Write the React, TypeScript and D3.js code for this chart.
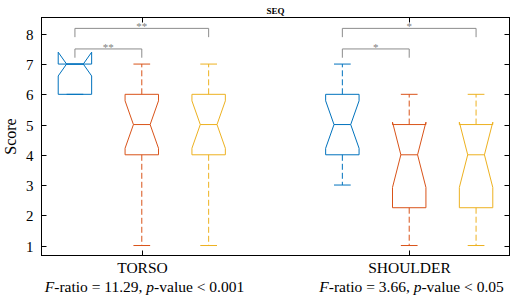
import { useEffect, useRef } from "react";
import * as d3 from "d3";

// box statistics, three conditions per body region
const regions = ["TORSO", "SHOULDER"];
const boxPositions = [[1, 2, 3], [5, 6, 7]];
const q1Values = [[6, 4, 4], [4, 2.25, 2.25]];
const medianValues = [[7, 5, 5], [5, 4, 4]];
const q3Values = [[7, 6, 6], [6, 5, 5]];
const whiskerLow = [[6, 1, 1], [3, 1, 1]];
const whiskerHigh = [[7, 7, 7], [7, 6, 6]];
const sampleSize = 16;

const fRatios = ["11.29", "3.66"];
const pValues = ["0.001", "0.05"];

// significance brackets: [region, from box, to box, level, stars]
const brackets: [number, number, number, number, string][] = [
  [0, 0, 2, 8.18, "**"],
  [0, 0, 1, 7.5, "**"],
  [1, 0, 2, 8.18, "*"],
  [1, 0, 1, 7.5, "*"],
];

const yTicks = [1, 2, 3, 4, 5, 6, 7, 8];
const colors = ["#0072BD", "#D95319", "#EDB120"];

const App = () => {
  const ref = useRef<SVGSVGElement>(null);

  useEffect(() => {
    if (!ref.current) return;
    const svg = d3.select(ref.current);
    svg.selectAll("*").remove();

    const left = 41.5, right = 509.5, top = 17.5, bottom = 255.5;
    const font = "'Liberation Serif', 'Times New Roman', serif";

    const x = d3.scaleLinear().domain([0.5, 7.5]).range([left, right]);
    const y = d3.scaleLinear().domain([0.67, 8.54]).range([bottom, top]);
    const half = x(0.25) - x(0);

    // title
    svg.append("text")
      .attr("x", (left + right) / 2)
      .attr("y", 13.5)
      .attr("text-anchor", "middle")
      .attr("font-family", font)
      .attr("font-weight", "bold")
      .attr("font-size", 9)
      .text("SEQ");

    // brackets
    const drop = 0.29;
    brackets.forEach(([r, a, b, lvl, stars]) => {
      const x1 = x(boxPositions[r][a]);
      const x2 = x(boxPositions[r][b]);
      const path = d3.path();
      path.moveTo(x1, y(lvl - drop));
      path.lineTo(x1, y(lvl));
      path.lineTo(x2, y(lvl));
      path.lineTo(x2, y(lvl - drop));
      svg.append("path")
        .attr("d", path.toString())
        .attr("fill", "none")
        .attr("stroke", "#8c8c8c")
        .attr("stroke-width", 1);
      svg.append("text")
        .attr("x", (x1 + x2) / 2)
        .attr("y", y(lvl) + 2)
        .attr("text-anchor", "middle")
        .attr("font-family", font)
        .attr("font-size", 11)
        .attr("fill", "#808080")
        .text(stars);
    });

    // boxes
    regions.forEach((_, r) => {
      boxPositions[r].forEach((pos, i) => {
        const c = x(pos);
        const q1 = q1Values[r][i], med = medianValues[r][i], q3 = q3Values[r][i];
        const notch = (1.57 * (q3 - q1)) / Math.sqrt(sampleSize);
        const nl = med - notch, nh = med + notch;
        const col = colors[i];
        const g = svg.append("g").attr("stroke", col).attr("fill", "none").attr("stroke-width", 1);

        // whiskers
        [[q3, whiskerHigh[r][i]], [q1, whiskerLow[r][i]]].forEach(([from, to]) => {
          g.append("line")
            .attr("x1", c).attr("x2", c)
            .attr("y1", y(from)).attr("y2", y(to))
            .attr("stroke-dasharray", "6,3");
          g.append("line")
            .attr("x1", c - half / 2).attr("x2", c + half / 2)
            .attr("y1", y(to)).attr("y2", y(to));
        });

        const pts: [number, number][] = [
          [c - half, y(q1)], [c - half, y(nl)], [c - half / 2, y(med)], [c - half, y(nh)],
          [c - half, y(q3)], [c + half, y(q3)], [c + half, y(nh)], [c + half / 2, y(med)],
          [c + half, y(nl)], [c + half, y(q1)],
        ];
        g.append("path").attr("d", d3.line()(pts) + "Z");
        g.append("line")
          .attr("x1", c - half / 2).attr("x2", c + half / 2)
          .attr("y1", y(med)).attr("y2", y(med));
      });
    });

    // axes frame and ticks
    svg.append("rect")
      .attr("x", left).attr("y", top)
      .attr("width", right - left).attr("height", bottom - top)
      .attr("fill", "none").attr("stroke", "#000").attr("stroke-width", 1);

    const tk = 5;
    yTicks.forEach((t) => {
      const yy = Math.round(y(t)) + 0.5;
      svg.append("line").attr("x1", left).attr("x2", left + tk).attr("y1", yy).attr("y2", yy).attr("stroke", "#000");
      svg.append("line").attr("x1", right - tk).attr("x2", right).attr("y1", yy).attr("y2", yy).attr("stroke", "#000");
      svg.append("text")
        .attr("x", left - 8)
        .attr("y", yy + 5)
        .attr("text-anchor", "end")
        .attr("font-family", font)
        .attr("font-size", 15)
        .text(t);
    });

    regions.forEach((name, r) => {
      const cx = Math.round(x(boxPositions[r][1])) + 0.5;
      svg.append("line").attr("x1", cx).attr("x2", cx).attr("y1", bottom).attr("y2", bottom - tk).attr("stroke", "#000");
      svg.append("line").attr("x1", cx).attr("x2", cx).attr("y1", top).attr("y2", top + tk).attr("stroke", "#000");
      svg.append("text")
        .attr("x", cx)
        .attr("y", 273)
        .attr("text-anchor", "middle")
        .attr("font-family", font)
        .attr("font-size", 15.5)
        .text(name);
      const stat = svg.append("text")
        .attr("x", cx + 2)
        .attr("y", 292)
        .attr("text-anchor", "middle")
        .attr("font-family", font)
        .attr("font-size", 15.5);
      stat.append("tspan").attr("font-style", "italic").text("F");
      stat.append("tspan").text(`-ratio = ${fRatios[r]}, `);
      stat.append("tspan").attr("font-style", "italic").text("p");
      stat.append("tspan").text(`-value < ${pValues[r]}`);
    });

    // y label
    svg.append("text")
      .attr("transform", `translate(16,${(top + bottom) / 2}) rotate(-90)`)
      .attr("text-anchor", "middle")
      .attr("font-family", font)
      .attr("font-size", 16)
      .text("Score");
  }, []);

  return (
    <svg
      ref={ref}
      width={517}
      height={302}
      style={{ position: "absolute", left: 0, top: 0, background: "#fff" }}
    />
  );
};

export default App;
